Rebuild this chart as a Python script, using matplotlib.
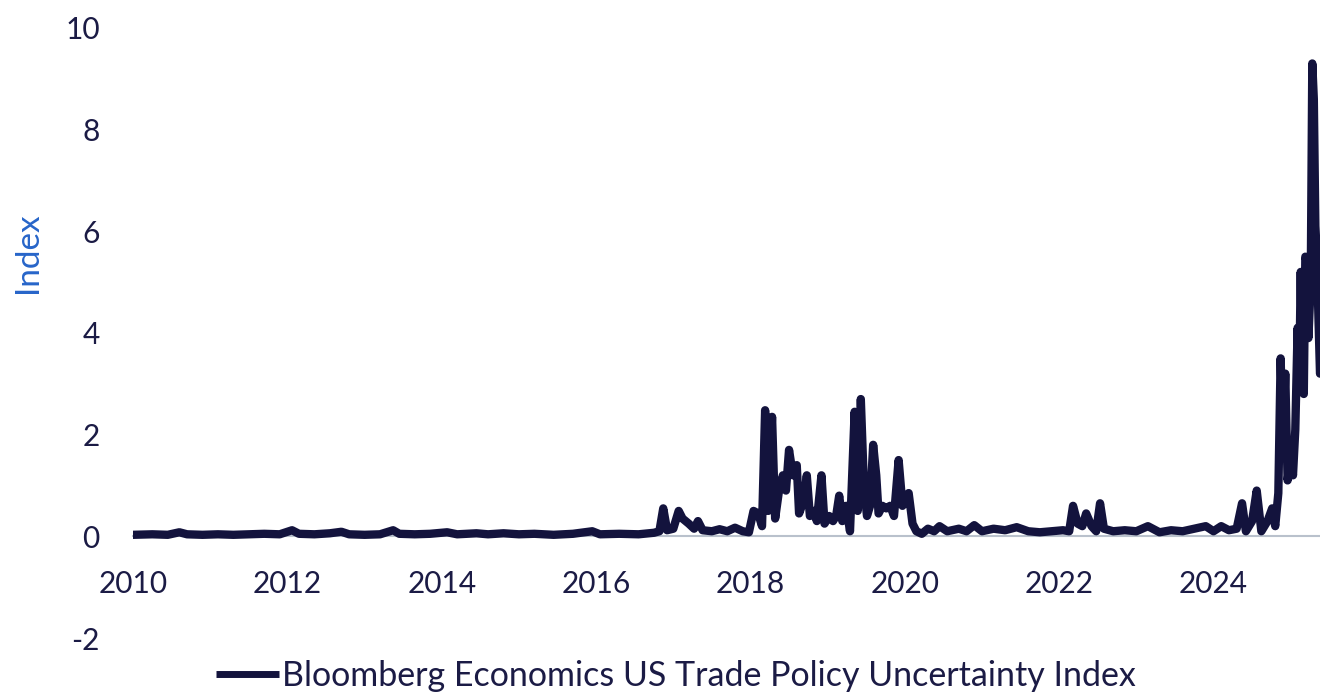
import matplotlib.pyplot as plt
from matplotlib.lines import Line2D

plt.rcParams["font.family"] = ["Lato", "DejaVu Sans"]
plt.rcParams["axes.unicode_minus"] = False

# Decimal-year dates and index values.
dates = [
    2010.00, 2010.25, 2010.45, 2010.60, 2010.70, 2010.90, 2011.10, 2011.30, 2011.50, 2011.70,
    2011.90, 2012.06, 2012.15, 2012.35, 2012.55, 2012.70, 2012.80, 2013.00, 2013.20, 2013.37,
    2013.45, 2013.65, 2013.85, 2014.07, 2014.20, 2014.45, 2014.60, 2014.80, 2015.00, 2015.20,
    2015.45, 2015.70, 2015.95, 2016.05, 2016.30, 2016.55, 2016.75, 2016.82, 2016.87, 2016.92,
    2017.00, 2017.07, 2017.12, 2017.20, 2017.27, 2017.32, 2017.38, 2017.50, 2017.60, 2017.70,
    2017.80, 2017.90, 2017.98, 2018.04, 2018.10, 2018.15, 2018.19, 2018.23, 2018.28, 2018.32,
    2018.37, 2018.42, 2018.46, 2018.50, 2018.55, 2018.60, 2018.63, 2018.69, 2018.73, 2018.77,
    2018.82, 2018.86, 2018.92, 2018.96, 2019.02, 2019.07, 2019.11, 2019.15, 2019.19, 2019.24,
    2019.29, 2019.35, 2019.39, 2019.43, 2019.47, 2019.51, 2019.55, 2019.59, 2019.63, 2019.66,
    2019.71, 2019.76, 2019.81, 2019.86, 2019.92, 2019.97, 2020.05, 2020.10, 2020.15, 2020.22,
    2020.30, 2020.38, 2020.45, 2020.55, 2020.70, 2020.80, 2020.90, 2021.00, 2021.15, 2021.30,
    2021.45, 2021.60, 2021.75, 2021.90, 2022.05, 2022.13, 2022.18, 2022.24, 2022.30, 2022.35,
    2022.42, 2022.48, 2022.53, 2022.58, 2022.70, 2022.85, 2023.00, 2023.15, 2023.30, 2023.45,
    2023.60, 2023.75, 2023.90, 2024.00, 2024.10, 2024.20, 2024.30, 2024.37, 2024.42, 2024.50,
    2024.56, 2024.62, 2024.70, 2024.76, 2024.80, 2024.84, 2024.87, 2024.90, 2024.93, 2024.96,
    2025.00, 2025.03, 2025.06, 2025.09, 2025.11, 2025.13, 2025.15, 2025.17, 2025.19, 2025.21,
    2025.23, 2025.26, 2025.28, 2025.30, 2025.32, 2025.34, 2025.36, 2025.38,
]
tpu = [
    0.03, 0.04, 0.03, 0.08, 0.04, 0.03, 0.04, 0.03, 0.04, 0.05,
    0.04, 0.12, 0.05, 0.04, 0.06, 0.09, 0.04, 0.03, 0.04, 0.12,
    0.05, 0.04, 0.05, 0.08, 0.04, 0.06, 0.04, 0.06, 0.04, 0.05,
    0.03, 0.05, 0.10, 0.04, 0.05, 0.04, 0.07, 0.10, 0.55, 0.12,
    0.15, 0.50, 0.35, 0.25, 0.15, 0.30, 0.12, 0.10, 0.14, 0.10,
    0.17, 0.10, 0.08, 0.50, 0.45, 0.20, 2.48, 0.50, 2.35, 0.35,
    0.90, 1.20, 0.90, 1.70, 1.20, 1.40, 0.45, 0.70, 1.20, 0.40,
    0.50, 0.30, 1.20, 0.25, 0.40, 0.30, 0.40, 0.80, 0.30, 0.60,
    0.10, 2.45, 0.50, 2.70, 1.00, 0.40, 0.60, 1.80, 1.20, 0.45,
    0.60, 0.55, 0.60, 0.40, 1.50, 0.60, 0.85, 0.25, 0.10, 0.05,
    0.15, 0.10, 0.20, 0.10, 0.15, 0.10, 0.22, 0.10, 0.15, 0.12,
    0.18, 0.10, 0.08, 0.10, 0.12, 0.10, 0.60, 0.25, 0.20, 0.45,
    0.20, 0.10, 0.65, 0.15, 0.10, 0.12, 0.10, 0.20, 0.08, 0.12,
    0.10, 0.15, 0.20, 0.10, 0.20, 0.12, 0.15, 0.65, 0.10, 0.30,
    0.90, 0.10, 0.30, 0.55, 0.20, 0.85, 3.50, 1.80, 3.20, 1.10,
    1.60, 1.20, 2.10, 4.10, 2.90, 5.20, 3.00, 2.80, 5.50, 5.40,
    3.90, 5.00, 9.30, 8.60, 6.10, 5.50, 4.30, 3.20,
]

year_ticks = [2010, 2012, 2014, 2016, 2018, 2020, 2022, 2024]
value_ticks = [-2, 0, 2, 4, 6, 8, 10]
series_name = "Bloomberg Economics US Trade Policy Uncertainty Index"

navy = "#13133d"
text_col = "#1b1b45"

fig = plt.figure(figsize=(13.2, 6.92), dpi=100)
ax = fig.add_axes([0.1008, 0.078, 0.8992, 0.8817])

ax.plot(dates, tpu, color=navy, lw=6, solid_joinstyle="round", solid_capstyle="round", zorder=3)

ax.set_xlim(2010, 2025.38)
ax.set_ylim(-2, 10)

for side in ["top", "right", "left"]:
    ax.spines[side].set_visible(False)
ax.spines["bottom"].set_position(("data", 0))
ax.spines["bottom"].set_color("#b9c1cc")
ax.spines["bottom"].set_linewidth(1.5)
ax.spines["bottom"].set_zorder(1)

ax.set_xticks(year_ticks)
ax.set_xticklabels([str(y) for y in year_ticks])
ax.set_yticks(value_ticks)
ax.tick_params(axis="x", length=0, pad=24, labelsize=21.5, labelcolor=text_col)
ax.tick_params(axis="y", length=0, pad=24, labelsize=21.5, labelcolor=text_col)

fig.text(28 / 1320, 1 - 253 / 692, "Index", rotation=90, color="#2765c9",
         fontsize=24, ha="center", va="center")

handle = Line2D([], [], color=navy, lw=5, solid_capstyle="butt")
fig.legend([handle], [series_name], loc="center", bbox_to_anchor=(0.512, 1 - 676 / 692),
           frameon=False, fontsize=24.5, handlelength=1.85, handletextpad=0.1,
           labelcolor=text_col, borderpad=0)

fig.savefig("out.png", dpi=100)
